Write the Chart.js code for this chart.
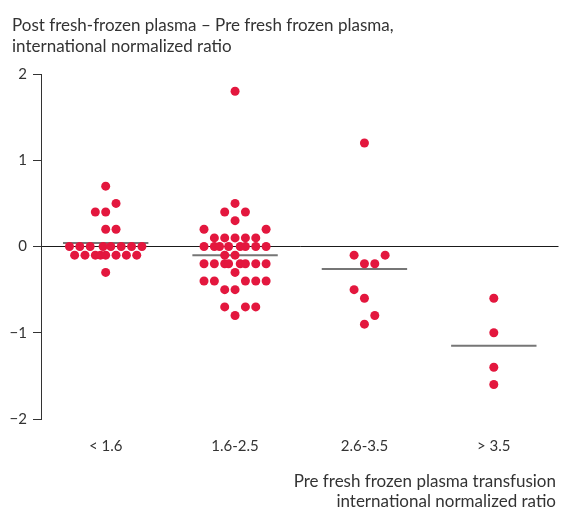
<!DOCTYPE html>
<html>
<head>
<meta charset="utf-8">
<script src="https://cdn.jsdelivr.net/npm/chart.js@4"></script>
<style>
  html, body { margin: 0; padding: 0; background: #fff; }
  #wrap { width: 563px; height: 509px; position: relative; }
</style>
</head>
<body>
<div id="wrap"><canvas id="chart" width="563" height="509"></canvas></div>
<script>
const categories = ["< 1.6", "1.6-2.5", "2.6-3.5", "> 3.5"];
const yTicks = [-2, -1, 0, 1, 2];

// [x position within category, INR difference]
const under16 = [
  [1.00, 0.7], [1.08, 0.5], [0.92, 0.4], [1.00, 0.4], [1.00, 0.2], [1.08, 0.2],
  [0.72, 0], [0.80, 0], [0.88, 0], [0.98, 0], [1.04, 0], [1.12, 0], [1.20, 0], [1.28, 0],
  [0.76, -0.1], [0.84, -0.1], [0.92, -0.1], [0.96, -0.1], [1.00, -0.1], [1.08, -0.1], [1.16, -0.1], [1.24, -0.1],
  [1.00, -0.3],
];
const from16to25 = [
  [2.00, 1.8], [2.00, 0.5], [1.92, 0.4], [2.08, 0.4], [2.00, 0.3], [1.76, 0.2], [2.24, 0.2],
  [1.84, 0.1], [1.92, 0.1], [2.00, 0.1], [2.08, 0.1], [2.16, 0.1],
  [1.76, 0], [1.84, 0], [1.88, 0], [1.95, 0], [2.04, 0], [2.08, 0], [2.16, 0], [2.24, 0],
  [1.92, -0.1], [2.00, -0.1],
  [1.76, -0.2], [1.84, -0.2], [1.92, -0.2], [1.95, -0.2], [2.04, -0.2], [2.08, -0.2], [2.16, -0.2], [2.24, -0.2],
  [2.00, -0.3],
  [1.76, -0.4], [1.84, -0.4], [2.08, -0.4], [2.16, -0.4], [2.24, -0.4],
  [1.92, -0.5], [2.00, -0.5],
  [1.92, -0.7], [2.08, -0.7], [2.16, -0.7],
  [2.00, -0.8],
];
const from26to35 = [
  [3.00, 1.2], [2.92, -0.1], [3.16, -0.1], [3.00, -0.2], [3.08, -0.2],
  [2.92, -0.5], [3.00, -0.6], [3.08, -0.8], [3.00, -0.9],
];
const over35 = [
  [4.00, -0.6], [4.00, -1.0], [4.00, -1.4], [4.00, -1.6],
];
const means = [0.04, -0.1, -0.26, -1.15];

const RED = "#e3173e";
const TEXT = "#333333";
const FONT = "Lato, 'Open Sans', sans-serif";

const toPts = arr => arr.map(([x, y]) => ({ x, y }));

const meanSets = means.map((m, i) => ({
  type: "line",
  data: [{ x: i + 1 - 0.33, y: m }, { x: i + 1 + 0.33, y: m }],
  borderColor: "#767676",
  borderWidth: 2,
  pointRadius: 0,
  order: 2,
}));

const textPlugin = {
  id: "texts",
  afterDraw(chart) {
    const c = chart.ctx;
    c.save();
    c.fillStyle = TEXT;
    c.font = `17px ${FONT}`;
    c.textBaseline = "alphabetic";
    c.textAlign = "left";
    c.fillText("Post fresh-frozen plasma \u2013 Pre fresh frozen plasma,", 12, 31);
    c.fillText("international normalized ratio", 12, 52);
    c.textAlign = "right";
    c.fillText("Pre fresh frozen plasma transfusion", 556, 487);
    c.fillText("international normalized ratio", 556, 507);
    c.restore();
  },
};

new Chart(document.getElementById("chart"), {
  type: "scatter",
  data: {
    datasets: [
      {
        data: toPts([...under16, ...from16to25, ...from26to35, ...over35]),
        backgroundColor: RED,
        borderWidth: 0,
        pointRadius: 4.5,
        order: 1,
      },
      ...meanSets,
    ],
  },
  options: {
    responsive: false,
    animation: false,
    layout: { padding: { top: 74, right: 2, bottom: 0, left: 0 } },
    plugins: { legend: { display: false }, tooltip: { enabled: false } },
    scales: {
      x: {
        type: "linear",
        min: 0.5,
        max: 4.5,
        afterFit: s => { s.height = 90; },
        afterBuildTicks: s => { s.ticks = categories.map((_, i) => ({ value: i + 1 })); },
        ticks: {
          color: TEXT,
          font: { family: FONT, size: 15 },
          padding: 10,
          callback: v => categories[v - 1] ?? "",
        },
        grid: { display: false },
        border: { display: false },
      },
      y: {
        min: -2,
        max: 2,
        afterFit: s => { s.width = 41; },
        afterBuildTicks: s => { s.ticks = yTicks.map(v => ({ value: v })); },
        ticks: {
          color: TEXT,
          font: { family: FONT, size: 15 },
          padding: 6,
          callback: v => v < 0 ? `\u2212${-v}` : `${v}`,
        },
        grid: {
          color: ctx => ctx.tick && ctx.tick.value === 0 ? "#1a1a1a" : "rgba(0,0,0,0)",
          tickColor: "#333",
          tickLength: 8,
          lineWidth: 1,
        },
        border: { display: true, color: "#333", width: 1 },
      },
    },
  },
  plugins: [textPlugin],
});
</script>
</body>
</html>
